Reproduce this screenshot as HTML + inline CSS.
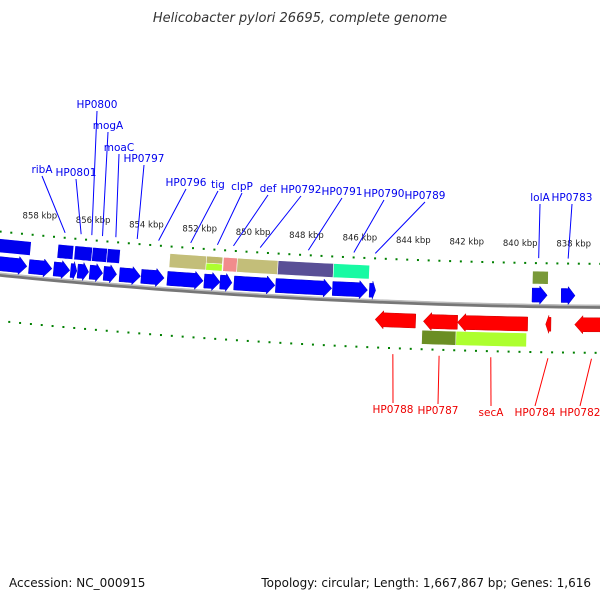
<!DOCTYPE html>
<html><head><meta charset="utf-8"><style>
body{margin:0;background:#fff}
svg{display:block;font-family:"DejaVu Sans","Liberation Sans",sans-serif}
</style></head><body>
<svg id="map" width="600" height="600" viewBox="0 0 600 600">
<rect width="600" height="600" fill="#fff"/>
<text x="300" y="22" text-anchor="middle" font-size="13" font-style="italic" fill="#333">Helicobacter pylori 26695, complete genome</text>
<g id="layer"></g>
<text x="9" y="587" font-size="12" fill="#111">Accession: NC_000915</text>
<text x="591" y="587" text-anchor="end" font-size="12" fill="#111">Topology: circular; Length: 1,667,867 bp; Genes: 1,616</text>
</svg>
<script>
// tick data (kbp)
const majorTicks = [858,856,854,852,850,848,846,844,842,840,838];
const tickLabels = ["858 kbp","856 kbp","854 kbp","852 kbp","850 kbp","848 kbp","846 kbp","844 kbp","842 kbp","840 kbp","838 kbp"];
// top feature row (boxes): start, end, color
const boxStart = [860.5,857.22,856.59,855.93,855.37,853.04,851.67,851.04,850.52,849.00,846.93,839.52];
const boxEnd   = [858.22,856.63,855.93,855.37,854.89,851.67,851.07,850.52,849.00,846.93,845.59,838.93];
const boxColor = ["#0000ee","#0000ee","#0000ee","#0000ee","#0000ee","#bdb76b","split","#f08080","#bdb76b","#483d8b","#00fa9a","#6b8e23"];
// forward genes
const fwdStart = [860.5,858.22,857.30,856.67,856.41,855.96,855.44,854.85,854.04,853.07,851.70,851.11,850.59,849.04,846.93,845.56,839.52,838.44];
const fwdEnd   = [858.30,857.37,856.70,856.44,856.00,855.48,854.96,854.07,853.19,851.74,851.11,850.67,849.07,846.96,845.63,845.33,838.96,837.93];
// reverse genes
const revStart = [845.30,843.52,842.26,839.00,837.93];
const revEnd   = [843.81,842.26,839.67,838.81,836.5];
// lower box row
const lowStart = [843.56,842.30];
const lowEnd   = [842.30,839.70];
const lowColor = ["#6b8e23","#adff2f"];
// labels
const fwdNames = ["ribA","HP0801","HP0800","mogA","moaC","HP0797","HP0796","tig","clpP","def","HP0792","HP0791","HP0790","HP0789","lolA","HP0783"];
const fwdLabelX = [42,76,97,108,119,144,186,218,242,268,301,342,384,425,540,572];
const fwdLabelY = [173,176,108,129,151,162,186,188,190,192,193,195,197,199,201,201];
const fwdTarget = [857.0,856.4,856.0,855.6,855.1,854.3,853.5,852.3,851.3,850.7,849.7,847.9,846.2,845.4,839.3,838.2];
const revNames = ["HP0788","HP0787","secA","HP0784","HP0782"];
const revLabelX = [393,438,491,535,580];
const revLabelY = [413,414,416,416,416];
const revTarget = [844.6,842.9,841.0,838.9,837.3];

const NS="http://www.w3.org/2000/svg";
const layer=document.getElementById('layer');
const R=6430, CX=643, CY=-6123;
function sOf(k){return (859.222-k)*27;}
function pt(k,off){const t=(sOf(k)-CX)/R;const r=R+off;return [CX+r*Math.sin(t),CY+r*Math.cos(t)];}
function mk(tag,attrs,parent){const e=document.createElementNS(NS,tag);for(const a in attrs)e.setAttribute(a,attrs[a]);(parent||layer).appendChild(e);return e;}
function poly(pts){return pts.map(p=>p[0].toFixed(1)+','+p[1].toFixed(1)).join(' ');}
function boxPts(a,b,o1,o2){const n=6,res=[];for(let i=0;i<=n;i++)res.push(pt(a+(b-a)*i/n,o1));for(let i=n;i>=0;i--)res.push(pt(a+(b-a)*i/n,o2));return res;}

// backbone
let bb=[];for(let k=861;k>=835;k-=0.5)bb.push(pt(k,0));
const bl=mk('polyline',{points:poly(bb),fill:'none',stroke:'#777',"stroke-width":4});


let bb2=bb.map(p=>[p[0],p[1]-1.5]);
const bl2=mk('polyline',{points:poly(bb2),fill:'none',stroke:'#bbb',"stroke-width":1.5});



// ticks
function ring(off,shift,labels){
  for(let k=861;k>=835;k-=0.4){
    const kk=Math.round(k*10)/10;
    const major=Math.abs(kk/2-Math.round(kk/2))<0.01;
    const p=pt(kk+shift,off);
    const e=mk('rect',{x:p[0]-1,y:major?p[1]-4:p[1]-1,width:2,height:major?8:2,fill:'#008000'});
    
    
  }
  if(labels){majorTicks.forEach((k,i)=>{const p=pt(k,off-20);
    const t=mk('text',{x:p[0],y:p[1]+3,"text-anchor":"middle","font-size":8.5,fill:'#222'});t.textContent=tickLabels[i];
    
    });}
}
ring(-43,0,true);
ring(46,0.15,false);

// lines & labels
fwdNames.forEach((n,i)=>{const p=pt(fwdTarget[i],-48);
  const l=mk('line',{x1:fwdLabelX[i],y1:fwdLabelY[i]+3,x2:p[0],y2:p[1],stroke:'#0000ff',"stroke-width":1});
  
  
  const t=mk('text',{x:fwdLabelX[i],y:fwdLabelY[i],"text-anchor":"middle","font-size":10.5,fill:'#0000ee'});t.textContent=n;
  
  });
revNames.forEach((n,i)=>{const p=pt(revTarget[i],52);
  const l=mk('line',{x1:p[0],y1:p[1],x2:revLabelX[i],y2:revLabelY[i]-10,stroke:'#ff0000',"stroke-width":1});
  
  
  const t=mk('text',{x:revLabelX[i],y:revLabelY[i],"text-anchor":"middle","font-size":10.5,fill:'#ee0000'});t.textContent=n;
  
  });

// top boxes
boxStart.forEach((a,i)=>{const b=boxEnd[i];
  if(boxColor[i]==='split'){
    const e1=mk('polygon',{points:poly(boxPts(a,b,-36,-29)),fill:'#bdb76b',stroke:'#fff',"stroke-width":0.5});
    
    
    const e2=mk('polygon',{points:poly(boxPts(a,b,-29,-22)),fill:'#adff2f',stroke:'#fff',"stroke-width":0.5});
    
    
  } else {
    const y1=(i===11)?-35:-36, y2=(i===11)?-22:-22;
    const e=mk('polygon',{points:poly(boxPts(a,b,y1,y2)),fill:boxColor[i],stroke:'#fff',"stroke-width":0.6,opacity:i>=5?0.9:1});
    
    
  }
});
// forward arrows
fwdStart.forEach((a,i)=>{const b=fwdEnd[i];const len=a-b;const h=Math.min(0.3,len*0.5);
  const o1=-18,o2=-4;const pts=boxPts(a,b+h,o1,o2).slice(0,7);
  const p2=boxPts(a,b+h,o1,o2).slice(7);
  const all=[...pts,pt(b+h,o1-2),pt(b,(o1+o2)/2),pt(b+h,o2+2),...p2];
  const e=mk('polygon',{points:poly(all),fill:'#0000ff',stroke:'#0000cc',"stroke-width":0.5});
  
  });
// reverse arrows
revStart.forEach((a,i)=>{const b=revEnd[i];const len=a-b;const h=Math.min(0.3,len*0.6);
  const o1=11,o2=25;const bp=boxPts(a-h,b,o1,o2);
  const all=[pt(a,(o1+o2)/2),pt(a-h,o1-2),...bp.slice(0,7),...bp.slice(7),pt(a-h,o2+2)];
  const e=mk('polygon',{points:poly(all),fill:'#ff0000',stroke:'#cc0000',"stroke-width":0.5});
  
  });
// lower boxes
lowStart.forEach((a,i)=>{
  const e=mk('polygon',{points:poly(boxPts(a,lowEnd[i],27,41)),fill:lowColor[i],stroke:'#fff',"stroke-width":0.5});
  
  });
</script>
</body></html>
